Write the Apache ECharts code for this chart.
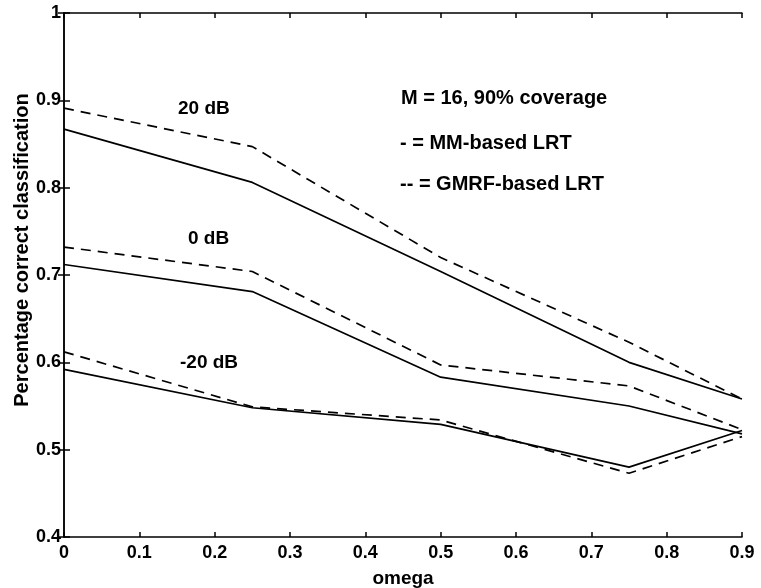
<!DOCTYPE html>
<html>
<head>
<meta charset="utf-8">
<script src="https://cdn.jsdelivr.net/npm/echarts@6/dist/echarts.min.js"></script>
<style>
  html, body { margin: 0; padding: 0; background: #fff; }
  #chart { width: 761px; height: 588px; }
</style>
</head>
<body>
<div id="chart"></div>
<script>
// omega values where each curve was evaluated
const omega = [0, 0.25, 0.5, 0.75, 0.9]

// solid = MM-based LRT, dashed = GMRF-based LRT
const mm20 = [0.867, 0.806, 0.704, 0.600, 0.558]
const gmrf20 = [0.891, 0.847, 0.720, 0.623, 0.558]
const mm0 = [0.712, 0.681, 0.583, 0.550, 0.518]
const gmrf0 = [0.732, 0.704, 0.597, 0.573, 0.523]
const mmNeg20 = [0.592, 0.548, 0.529, 0.480, 0.522]
const gmrfNeg20 = [0.612, 0.549, 0.534, 0.473, 0.515]

const snrLabels = ['20 dB', '0 dB', '-20 dB']
const noteLines = ['M = 16, 90% coverage', '- = MM-based LRT', '-- = GMRF-based LRT']
const yTitle = 'Percentage correct classification'

const font = "'Liberation Sans', Arial, sans-serif"
const textFont = 'bold 19px ' + font
const noteFont = 'bold 20px ' + font
const chart = echarts.init(document.getElementById('chart'))

function pairs(ys) {
  return omega.map((x, i) => [x, ys[i]])
}

function line(ys, dashed) {
  return {
    type: 'line',
    data: pairs(ys),
    showSymbol: false,
    silent: true,
    lineStyle: {
      color: '#000',
      width: 1.7,
      type: dashed ? [10, 7] : 'solid'
    }
  }
}

function label(text, left, top, f) {
  return { type: 'text', left, top, style: { text, font: f || textFont, fill: '#000' } }
}

const tickLabel = { color: '#000', fontFamily: font, fontSize: 18, fontWeight: 'bold' }
const axisStroke = { color: '#000', width: 1.5 }

const option = {
  backgroundColor: '#fff',
  animation: false,
  grid: { left: 64, right: 19, top: 13, bottom: 51, containLabel: false, outerBoundsMode: 'none' },
  xAxis: [
    {
      type: 'value',
      min: 0,
      max: 0.9,
      interval: 0.1,
      name: 'omega',
      nameLocation: 'middle',
      nameGap: 32,
      nameTextStyle: { color: '#000', fontFamily: font, fontSize: 19, fontWeight: 'bold' },
      axisLine: { lineStyle: axisStroke },
      axisTick: { inside: true, length: 5, lineStyle: axisStroke },
      axisLabel: {
        ...tickLabel,
        margin: 7,
        formatter: v => (v === 0 ? '0' : v.toFixed(1))
      },
      splitLine: { show: false }
    },
    {
      type: 'value',
      position: 'top',
      min: 0,
      max: 0.9,
      interval: 0.1,
      axisLine: { lineStyle: axisStroke },
      axisTick: { inside: true, length: 5, lineStyle: axisStroke },
      axisLabel: { show: false },
      splitLine: { show: false }
    }
  ],
  yAxis: [
    {
      type: 'value',
      min: 0.4,
      max: 1,
      interval: 0.1,
      axisLine: { show: true, lineStyle: axisStroke },
      axisTick: { show: true, inside: true, length: 6, lineStyle: axisStroke },
      axisLabel: {
        ...tickLabel,
        margin: 3,
        formatter: v => (Math.abs(v - 1) < 1e-9 ? '1' : v.toFixed(1))
      },
      splitLine: { show: false }
    },
    {
      type: 'value',
      position: 'right',
      min: 0.4,
      max: 1,
      interval: 0.1,
      axisLine: { show: true, lineStyle: axisStroke },
      axisTick: { show: true, inside: true, length: 6, lineStyle: axisStroke },
      axisLabel: { show: false },
      splitLine: { show: false }
    }
  ],
  series: [
    line(mm20, false),
    line(gmrf20, true),
    line(mm0, false),
    line(gmrf0, true),
    line(mmNeg20, false),
    line(gmrfNeg20, true)
  ],
  graphic: [
    {
      type: 'text',
      x: 22,
      y: 250,
      rotation: Math.PI / 2,
      style: { text: yTitle, font: noteFont, fill: '#000', align: 'center', verticalAlign: 'middle' }
    },
    label(snrLabels[0], 178, 99),
    label(snrLabels[1], 188, 229),
    label(snrLabels[2], 180, 353),
    label(noteLines[0], 401, 88, noteFont),
    label(noteLines[1], 400, 133, noteFont),
    label(noteLines[2], 400, 174, noteFont)
  ]
}

chart.setOption(option)
</script>
</body>
</html>
